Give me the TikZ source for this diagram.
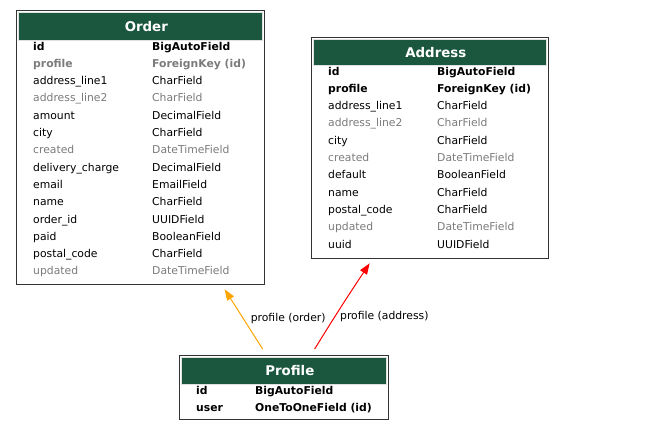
\documentclass[tikz,border=0pt]{standalone}
\usepackage{fontspec}
\setmainfont{DejaVu Sans}
\usetikzlibrary{arrows.meta,positioning}
\definecolor{hdrgreen}{HTML}{1B563F}
\definecolor{nullgray}{HTML}{7B7B7B}
\definecolor{framegray}{HTML}{333333}
\definecolor{edgeorange}{HTML}{FFA500}
\tikzset{
  tbl/.style={draw=framegray, line width=1.3pt, inner sep=0pt, anchor=north west},
  hdr/.style={fill=hdrgreen, draw=black!12, line width=0.6pt, inner sep=0pt, anchor=north west},
  ttl/.style={text=white, inner sep=0pt, xshift=6pt, font=\fontsize{13.33}{15}\selectfont\bfseries},
  fld/.style={anchor=west, inner sep=0pt, text height=8pt, text depth=2pt,
    font=\fontsize{10.8}{12}\selectfont},
  keyfld/.style={fld, font=\fontsize{10.8}{12}\selectfont\bfseries},
  nullfld/.style={fld, text=nullgray},
  nullkey/.style={keyfld, text=nullgray},
  fk/.style={line width=1pt, -{Triangle[length=11pt,width=8pt]}},
}
\begin{document}
\begin{tikzpicture}[x=1pt, y=-1pt]
  \useasboundingbox (0,0) rectangle (661,431);
  % Order
  \node[tbl, minimum width=248pt, minimum height=274pt] (order) at (16,10) {};
  \node[hdr, minimum width=244pt, minimum height=28pt] (order-h) at (18,12) {};
  \node[ttl] (order-title) at (order-h.center) {Order};
  \foreach \n/\t/\s [count=\i from 0] in {id/BigAutoField/keyfld, profile/ForeignKey (id)/nullkey,
      address\_line1/CharField/fld, address\_line2/CharField/nullfld, amount/DecimalField/fld,
      city/CharField/fld, created/DateTimeField/nullfld, delivery\_charge/DecimalField/fld,
      email/EmailField/fld, name/CharField/fld, order\_id/UUIDField/fld, paid/BooleanField/fld,
      postal\_code/CharField/fld, updated/DateTimeField/nullfld} {
    \node[\s] (order-n\i) at (33,{47+17.3*\i}) {\n};
    \node[\s] (order-t\i) at (152,{47+17.3*\i}) {\t};
  }
  % Address
  \node[tbl, minimum width=237pt, minimum height=221pt] (address) at (311,37) {};
  \node[hdr, minimum width=233pt, minimum height=26pt] (address-h) at (313,39) {};
  \node[ttl] (address-title) at (address-h.center) {Address};
  \foreach \n/\t/\s [count=\i from 0] in {id/BigAutoField/keyfld, profile/ForeignKey (id)/keyfld,
      address\_line1/CharField/fld, address\_line2/CharField/nullfld, city/CharField/fld,
      created/DateTimeField/nullfld, default/BooleanField/fld, name/CharField/fld,
      postal\_code/CharField/fld, updated/DateTimeField/nullfld, uuid/UUIDField/fld} {
    \node[\s] (address-n\i) at (328,{72+17.3*\i}) {\n};
    \node[\s] (address-t\i) at (437,{72+17.3*\i}) {\t};
  }
  % Profile
  \node[tbl, minimum width=209pt, minimum height=64pt] (profile) at (179,355) {};
  \node[hdr, minimum width=205pt, minimum height=27pt] (profile-h) at (181,357) {};
  \node[ttl] (profile-title) at (profile-h.center) {Profile};
  \foreach \n/\t [count=\i from 0] in {id/BigAutoField, user/OneToOneField (id)} {
    \node[keyfld] (profile-n\i) at (196,{391+17.3*\i}) {\n};
    \node[keyfld] (profile-t\i) at (255,{391+17.3*\i}) {\t};
  }
  % relations
  \draw[fk, edgeorange] ([xshift=-21.5pt,yshift=6pt]profile.north)
    -- node[fld, text=black, pos=0.51, xshift=7pt] (lbl-order) {profile (order)}
    ([xshift=84pt,yshift=-4pt]order.south);
  \draw[fk, red] ([xshift=30.5pt,yshift=6pt]profile.north)
    to[bend left=1] node[fld, text=black, pos=0.36, xshift=5pt] (lbl-address) {profile (address)}
    ([xshift=-60.5pt,yshift=-4pt]address.south);
\end{tikzpicture}
\end{document}
